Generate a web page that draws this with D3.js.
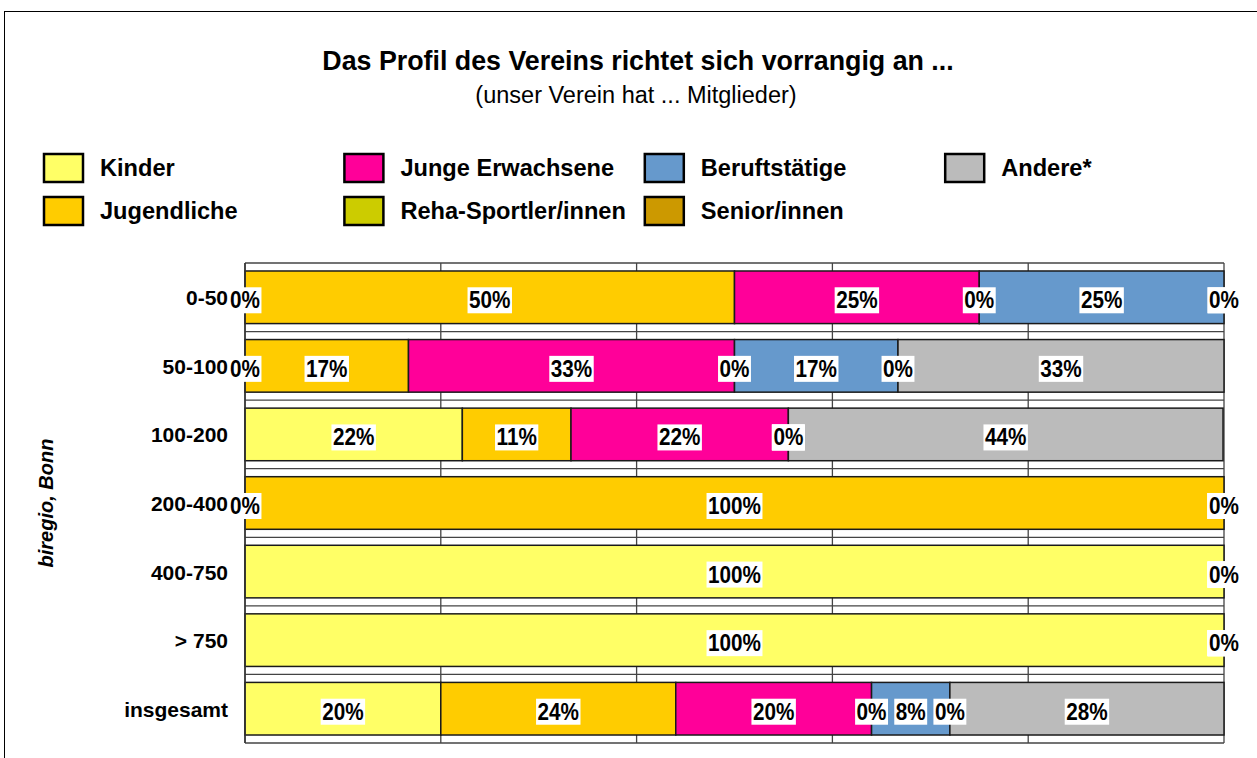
<!DOCTYPE html>
<html>
<head>
<meta charset="utf-8">
<script src="https://cdn.jsdelivr.net/npm/d3@7"></script>
<style>
    body { margin: 0; background: #fff; }
    svg text { font-family: "Liberation Sans", Arial, sans-serif; fill: #000; }
</style>
</head>
<body>
<div id="chart"></div>
<script>
// categories (Vereinsgröße) and series
const categories = ["0-50", "50-100", "100-200", "200-400", "400-750", "> 750", "insgesamt"];
const seriesNames = ["Kinder", "Jugendliche", "Junge Erwachsene", "Reha-Sportler/innen", "Beruftstätige", "Senior/innen", "Andere*"];
const seriesColors = ["#ffff66", "#ffcc00", "#ff0099", "#cccc00", "#6699cc", "#cc9900", "#bbbbbb"];

// shares in percent, one value per category
const kinder = [0, 0, 22.2, 0, 100, 100, 20];
const jugendliche = [50, 16.7, 11.1, 100, 0, 0, 24];
const jungeErwachsene = [25, 33.3, 22.2, 0, 0, 0, 20];
const rehaSportler = [0, 0, 0, 0, 0, 0, 0];
const berufstaetige = [25, 16.7, 0, 0, 0, 0, 8];
const senioren = [0, 0, 0, 0, 0, 0, 0];
const andere = [0, 33.3, 44.4, 0, 0, 0, 28];

const xTicks = [0, 20, 40, 60, 80, 100];

const seriesValues = [kinder, jugendliche, jungeErwachsene, rehaSportler, berufstaetige, senioren, andere];

const width = 1257, height = 758;
const margin = { top: 263, right: 33, bottom: 15, left: 245 };

const table = categories.map((c, i) => {
    let row = { cat: c };
    seriesNames.forEach((s, j) => row[s] = seriesValues[j][i]);
    return row;
});

const svg = d3.select("#chart")
    .append("svg")
    .attr("width", width)
    .attr("height", height);

// frame
svg.append("rect")
    .attr("x", 4.5).attr("y", 11.5)
    .attr("width", width + 10).attr("height", height + 10)
    .attr("fill", "none").attr("stroke", "#000").attr("stroke-width", 1);

// title
svg.append("text")
    .attr("x", 638).attr("y", 70)
    .attr("text-anchor", "middle")
    .style("font-size", "26.8px").style("font-weight", "bold")
    .text("Das Profil des Vereins richtet sich vorrangig an ...");

svg.append("text")
    .attr("x", 636).attr("y", 103)
    .attr("text-anchor", "middle")
    .style("font-size", "23.5px")
    .text("(unser Verein hat ... Mitglieder)");

// legend
const legend = svg.append("g")
    .selectAll("g")
    .data(seriesNames)
    .join("g")
    .attr("transform", (d, i) => `translate(${43 + Math.floor(i / 2) * 300.4},${153 + (i % 2) * 43})`);

legend.append("rect")
    .attr("x", 1).attr("y", 1)
    .attr("width", 39).attr("height", 28)
    .attr("fill", (d, i) => seriesColors[i])
    .attr("stroke", "#000").attr("stroke-width", 2.5);

legend.append("text")
    .attr("x", 57).attr("y", 23)
    .style("font-size", "23.6px").style("font-weight", "bold")
    .text(d => d);

// scales
const x = d3.scaleLinear()
    .domain([0, 100])
    .range([margin.left, width - margin.right]);

const y = d3.scaleBand()
    .domain(categories)
    .range([margin.top, height - margin.bottom])
    .paddingInner(0.233)
    .paddingOuter(0.1165);

// vertical gridlines
svg.append("g")
    .selectAll("line")
    .data(xTicks)
    .join("line")
    .attr("x1", d => x(d)).attr("x2", d => x(d))
    .attr("y1", margin.top).attr("y2", height - margin.bottom)
    .attr("stroke", "#444").attr("stroke-width", 1.3);

// horizontal band boundaries
const bounds = d3.range(categories.length + 1).map(i => y.range()[0] + i * y.step());
svg.append("g")
    .selectAll("line")
    .data(bounds)
    .join("line")
    .attr("x1", x(0)).attr("x2", x(100))
    .attr("y1", d => d).attr("y2", d => d)
    .attr("stroke", "#444").attr("stroke-width", 1.3);

// stacked bars
const stacked = d3.stack().keys(seriesNames)(table);

const layers = svg.append("g")
    .selectAll("g")
    .data(stacked)
    .join("g")
    .attr("fill", (d, i) => seriesColors[i]);

layers.selectAll("rect")
    .data(d => d)
    .join("rect")
    .filter(d => d[1] - d[0] > 0)
    .attr("x", d => x(d[0]))
    .attr("y", d => y(d.data.cat))
    .attr("width", d => x(d[1]) - x(d[0]))
    .attr("height", y.bandwidth())
    .attr("stroke", "#1a1a1a").attr("stroke-width", 1.5);

// left axis line
svg.append("line")
    .attr("x1", x(0)).attr("x2", x(0))
    .attr("y1", margin.top).attr("y2", height - margin.bottom)
    .attr("stroke", "#333").attr("stroke-width", 1.5);

// category labels
svg.append("g")
    .selectAll("text")
    .data(categories)
    .join("text")
    .attr("x", 228)
    .attr("y", d => y(d) + y.bandwidth() / 2 + 8)
    .attr("text-anchor", "end")
    .style("font-size", "21px").style("font-weight", "bold")
    .text(d => d);

// y axis title
svg.append("text")
    .attr("transform", `translate(53,${(margin.top + height - margin.bottom) / 2}) rotate(-90)`)
    .attr("text-anchor", "middle")
    .style("font-size", "20px").style("font-weight", "bold").style("font-style", "italic")
    .text("biregio, Bonn");

// value labels with white boxes
const labelData = [];
stacked.forEach(layer => {
    layer.forEach(d => {
        labelData.push({ v: d[1] - d[0], cx: x((d[0] + d[1]) / 2), cat: d.data.cat });
    });
});

const labels = svg.append("g")
    .selectAll("g")
    .data(labelData)
    .join("g")
    .attr("transform", d => `translate(${d.cx},${y(d.cat) + y.bandwidth() / 2 + 3})`);

labels.append("rect").attr("fill", "#fff");

labels.append("text")
    .attr("text-anchor", "middle")
    .attr("y", 8)
    .attr("transform", "scale(0.9,1)")
    .style("font-size", "23px").style("font-weight", "bold")
    .text(d => Math.round(d.v) + "%");

labels.each(function () {
    const g = d3.select(this);
    const b = g.select("text").node().getBBox();
    g.select("rect")
        .attr("x", b.x * 0.9 - 1.5)
        .attr("y", -13)
        .attr("width", b.width * 0.9 + 3)
        .attr("height", 26);
});
</script>
</body>
</html>
